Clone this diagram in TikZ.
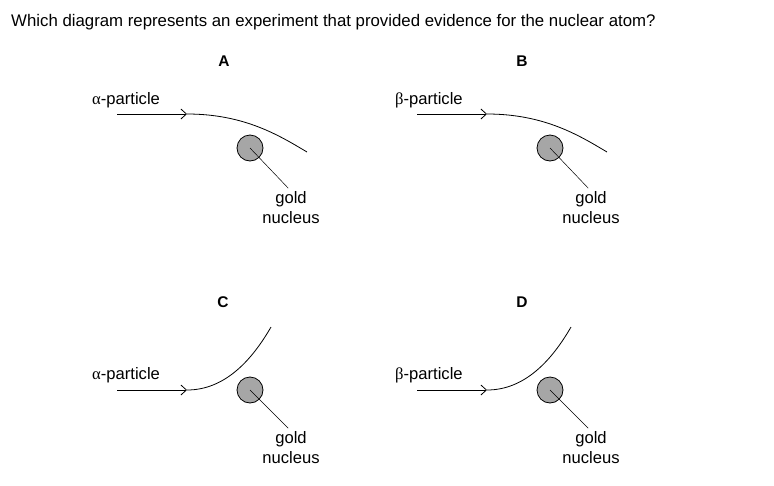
\documentclass[tikz,border=0pt]{standalone}
\usepackage{fontspec}
\setmainfont{Liberation Sans}
\newfontfamily\grk{Liberation Serif}
\usetikzlibrary{arrows.meta}
\tikzset{
  lbl/.style={inner sep=0pt, font=\fontsize{16.6}{19}\selectfont},
  ttl/.style={inner sep=0pt, font=\fontsize{16.8}{19}\selectfont},
  panel/.style={inner sep=0pt, font=\bfseries\fontsize{15.5}{17}\selectfont},
  track/.style={line width=0.8pt},
  inarrow/.style={line width=0.8pt, -{Straight Barb[length=5.5pt,width=10pt,line width=0.8pt]}},
  nuc/.style={circle, draw, line width=0.8pt, fill=black!35, minimum size=26pt, inner sep=0pt},
  leader/.style={line width=0.5pt, shorten >=4pt},
}
\begin{document}
\begin{tikzpicture}[x=1pt,y=-1pt]
\useasboundingbox (0,0) rectangle (774,485);
\node[ttl, anchor=west] (title) at (11,22) {Which diagram represents an experiment that provided evidence for the nuclear atom?};
\node[panel] (labA) at (224,61) {A};
\node[panel] (labB) at (522,61) {B};
\node[panel] (labC) at (223,302) {C};
\node[panel] (labD) at (522,302) {D};
% A
\node[lbl, anchor=west] (pA) at (92,100) {{\grk α}-particle};
\coordinate (sA) at (117,114);
\coordinate (tA) at (187,114);
\coordinate (eA) at (307,152);
\draw[inarrow] (sA) -- (tA);
\draw[track] (tA) .. controls (245,114) and (280,136) .. (eA);
\node[nuc] (nA) at (250,148) {};
\node[lbl] (gA) at (291,199) {gold};
\node[lbl] (uA) at (291,218) {nucleus};
\draw[leader] (nA.center) -- (gA.north);
% B
\node[lbl, anchor=west] (pB) at (395,100) {{\grk β}-particle};
\coordinate (sB) at (417,114);
\coordinate (tB) at (487,114);
\coordinate (eB) at (607,152);
\draw[inarrow] (sB) -- (tB);
\draw[track] (tB) .. controls (545,114) and (580,136) .. (eB);
\node[nuc] (nB) at (550,148) {};
\node[lbl] (gB) at (591,199) {gold};
\node[lbl] (uB) at (591,218) {nucleus};
\draw[leader] (nB.center) -- (gB.north);
% C
\node[lbl, anchor=west] (pC) at (92,375) {{\grk α}-particle};
\coordinate (sC) at (117,390);
\coordinate (tC) at (187,390);
\coordinate (eC) at (271,327);
\draw[inarrow] (sC) -- (tC);
\draw[track] (tC) .. controls (225,390) and (252,360) .. (eC);
\node[nuc] (nC) at (250,390) {};
\node[lbl] (gC) at (291,439) {gold};
\node[lbl] (uC) at (291,458) {nucleus};
\draw[leader] (nC.center) -- (gC.north);
% D
\node[lbl, anchor=west] (pD) at (395,375) {{\grk β}-particle};
\coordinate (sD) at (417,390);
\coordinate (tD) at (487,390);
\coordinate (eD) at (571,327);
\draw[inarrow] (sD) -- (tD);
\draw[track] (tD) .. controls (525,390) and (552,360) .. (eD);
\node[nuc] (nD) at (550,390) {};
\node[lbl] (gD) at (591,439) {gold};
\node[lbl] (uD) at (591,458) {nucleus};
\draw[leader] (nD.center) -- (gD.north);
\end{tikzpicture}
\end{document}
